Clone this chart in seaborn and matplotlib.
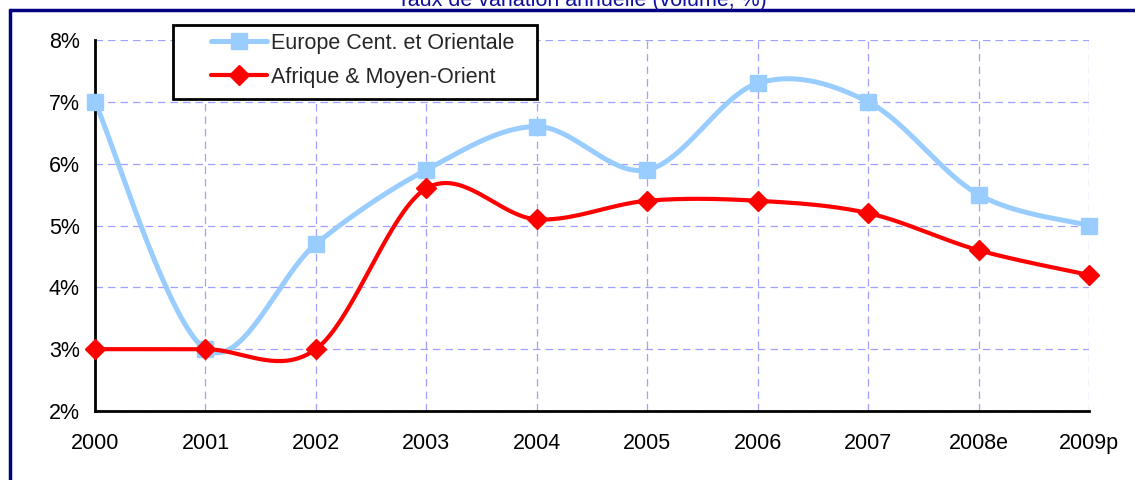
import numpy as np
import pandas as pd
import seaborn as sns
import matplotlib
matplotlib.use("Agg")
import matplotlib.pyplot as plt
from matplotlib.lines import Line2D
from matplotlib.patches import Rectangle

years = ["2000", "2001", "2002", "2003", "2004", "2005", "2006", "2007", "2008e", "2009p"]
europe = [7.0, 3.0, 4.7, 5.9, 6.6, 5.9, 7.3, 7.0, 5.5, 5.0]
afrique = [3.0, 3.0, 3.0, 5.6, 5.1, 5.4, 5.4, 5.2, 4.6, 4.2]
yticks = [2, 3, 4, 5, 6, 7, 8]
labels = ["Europe Cent. et Orientale", "Afrique & Moyen-Orient"]


def smooth(ys, n=40):
    """
        Excel-like smoothed line (Catmull-Rom bezier through the points)
    """
    pts = np.column_stack([np.arange(len(ys)), ys]).astype(float)
    out = []
    for i in range(len(pts) - 1):
        p0 = pts[max(i - 1, 0)]
        p1 = pts[i]
        p2 = pts[i + 1]
        p3 = pts[min(i + 2, len(pts) - 1)]
        c1 = p1 + (p2 - p0) / 6
        c2 = p2 - (p3 - p1) / 6
        t = np.linspace(0, 1, n)[:, None]
        seg = ((1 - t) ** 3) * p1 + 3 * ((1 - t) ** 2) * t * c1 + 3 * (1 - t) * t ** 2 * c2 + t ** 3 * p2
        out.append(seg if i == 0 else seg[1:])
    seg = np.vstack(out)
    return pd.DataFrame({"x": seg[:, 0], "y": seg[:, 1]})


sns.set_style("white")
plt.rcParams['font.family'] = ['Liberation Sans', 'DejaVu Sans']
fs = 15.5

fig = plt.figure(figsize=(11.35, 4.8), dpi=100)
ax = fig.add_axes([95 / 1135, 1 - 411 / 480, (1089 - 95) / 1135, (411 - 40) / 480])

blue = "#99CCFF"
red = "#FF0000"

sns.lineplot(data=smooth(europe), x="x", y="y", sort=False, color=blue, lw=3.6, ax=ax, legend=False, clip_on=False)
sns.lineplot(data=smooth(afrique), x="x", y="y", sort=False, color=red, lw=3, ax=ax, legend=False, clip_on=False)
ax.plot(range(len(years)), europe, ls="none", marker="s", ms=11.5, color=blue, clip_on=False, zorder=5)
ax.plot(range(len(years)), afrique, ls="none", marker="D", ms=10, color=red, clip_on=False, zorder=6)

ax.set_xlim(0, len(years) - 1)
ax.set_ylim(2, 8)
ax.set_xticks(range(len(years)))
ax.set_xticklabels(years)
ax.set_yticks(yticks)
ax.set_yticklabels([f"{v}%" for v in yticks])
ax.set_xlabel("")
ax.set_ylabel("")
ax.grid(True, color="#A0A0FF", ls=(0, (6, 4)), lw=0.9)
ax.set_axisbelow(True)
for s in ["top", "right"]:
    ax.spines[s].set_visible(False)
for s in ["left", "bottom"]:
    ax.spines[s].set_color("black")
    ax.spines[s].set_linewidth(2)
ax.tick_params(axis="both", direction="out", length=6, width=2, color="black", labelsize=fs, colors="black")
ax.tick_params(axis="y", pad=5)
ax.tick_params(axis="x", pad=10)

# legend box like Excel: drawn frame, legend entries inside
fig.add_artist(Rectangle((173 / 1135, 1 - 99 / 480), (537 - 173) / 1135, 74 / 480, transform=fig.transFigure,
                         facecolor="white", edgecolor="black", lw=2, zorder=10))
handles = [
    Line2D([], [], color=blue, lw=3.6, marker="s", ms=11.5),
    Line2D([], [], color=red, lw=3, marker="D", ms=10),
]
leg = fig.legend(handles, labels, loc="upper left", bbox_to_anchor=(211 / 1135, 1 - 33 / 480),
                 frameon=False, fontsize=fs, handlelength=2.6, handletextpad=0.2,
                 borderpad=0, labelspacing=0.6, borderaxespad=0)
leg.set_zorder(11)

fig.text(582 / 1135, 1 - 6 / 480, "Taux de variation annuelle (volume, %)", ha="center", va="baseline",
         color="#1010A0", fontsize=fs)
navy = "#000080"
fig.add_artist(Line2D([10 / 1135, 10 / 1135], [0, 1 - 10 / 480], color=navy, lw=2.5, transform=fig.transFigure))
fig.add_artist(Line2D([10 / 1135, 1], [1 - 10 / 480, 1 - 10 / 480], color=navy, lw=2.5, transform=fig.transFigure))

fig.savefig("out.png", dpi=100)
